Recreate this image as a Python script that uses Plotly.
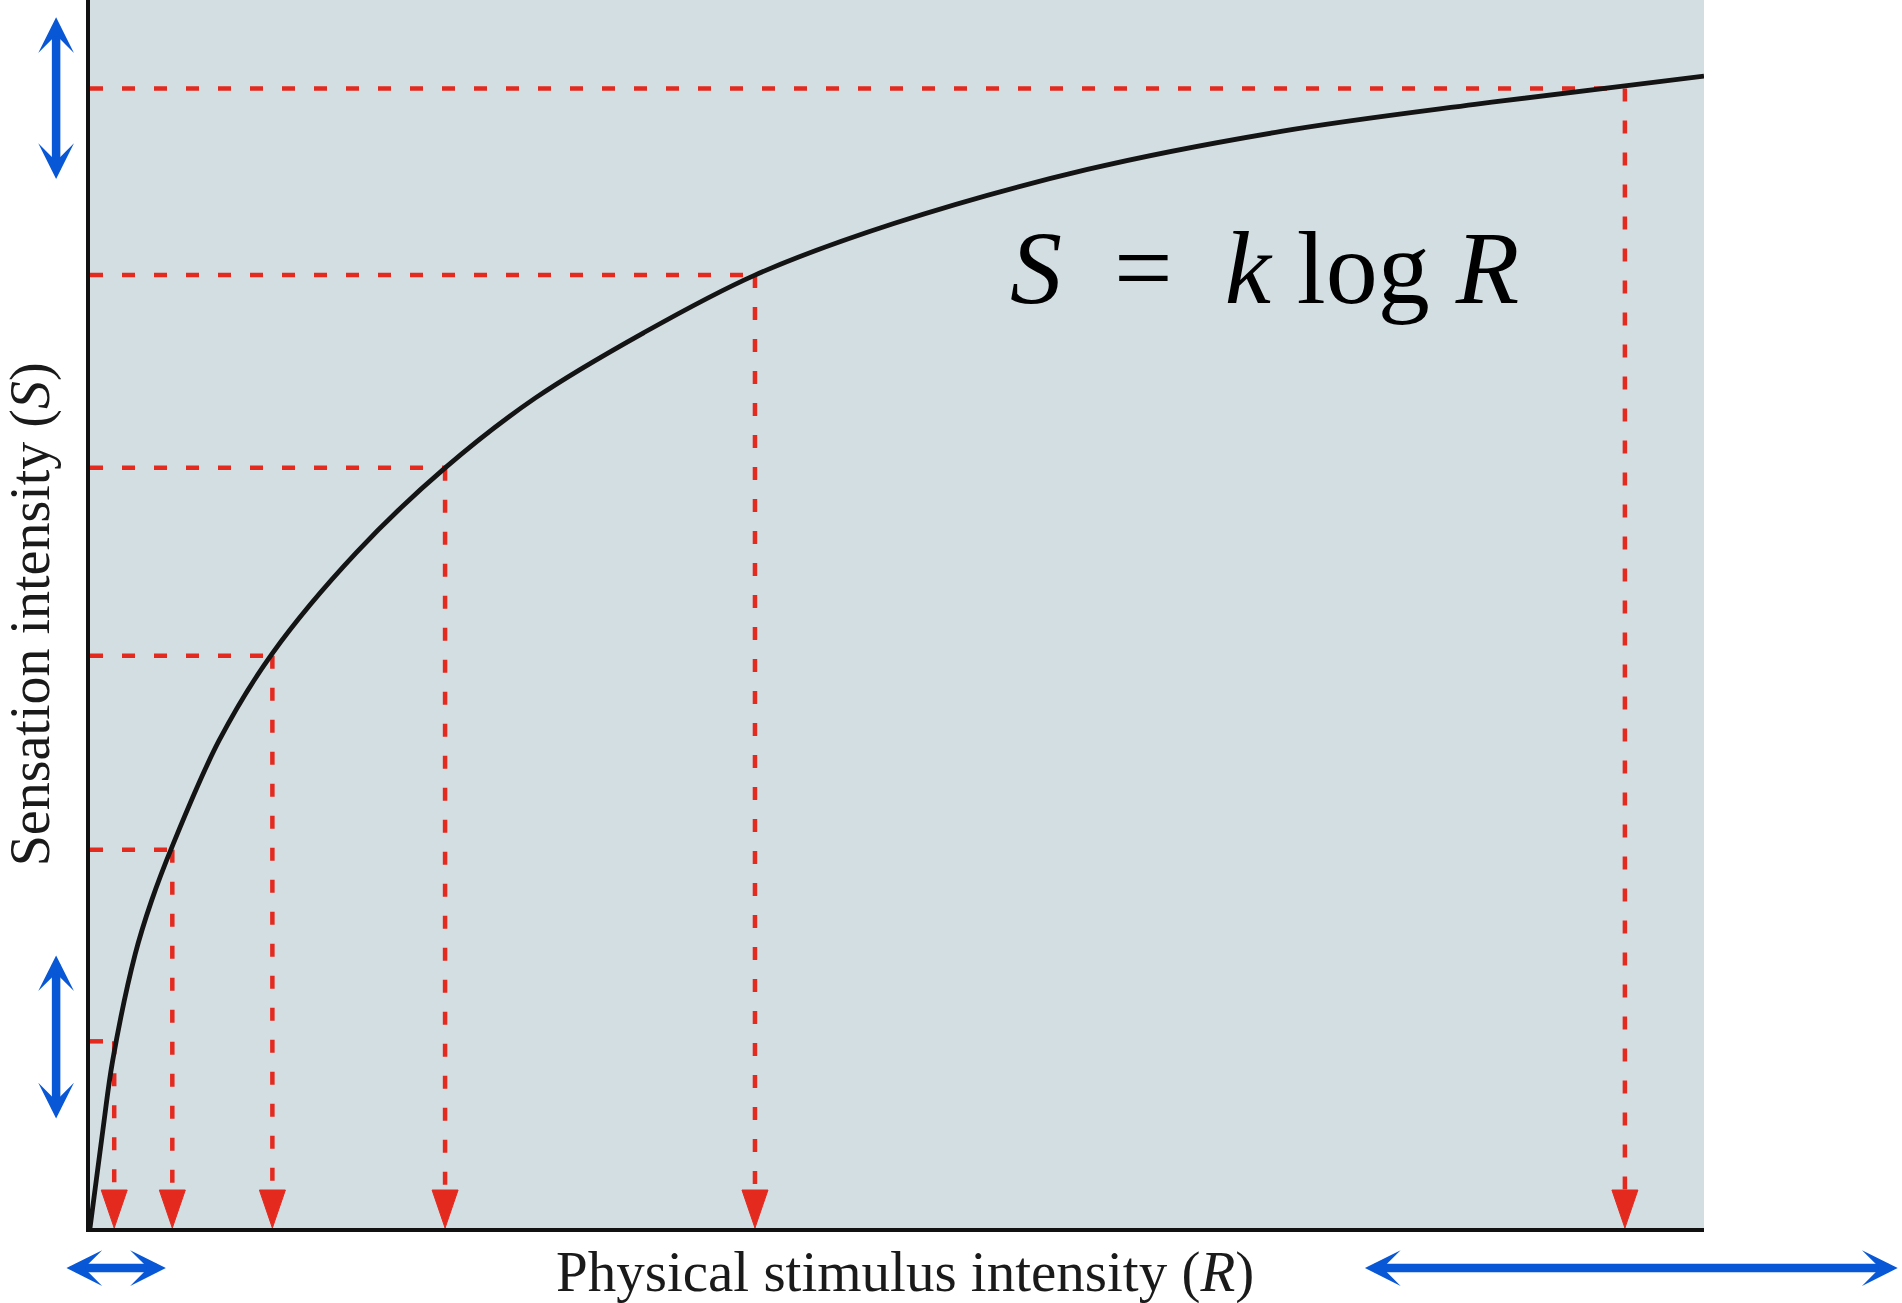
import plotly.graph_objects as go

# curve (R and S in 0-100 axis units)
curve_R = [0, 0.8, 1.4, 2.8, 3.8, 5.1, 8.0, 11.3, 16.5, 22.0, 27.6, 34.3, 41.2, 49.8, 61.8, 73.8, 85.8, 95.1, 100]
curve_S = [0, 8.0, 13.6, 22.3, 26.6, 31.1, 39.7, 46.8, 55.0, 61.9, 67.6, 72.9, 77.6, 81.8, 86.2, 89.3, 91.5, 93.0, 93.8]

# equal steps of sensation and the stimulus needed for each
R_marks = [1.5, 5.1, 11.3, 22.0, 41.2, 95.1]
S_marks = [15.2, 30.8, 46.6, 61.9, 77.6, 92.8]

# blue range arrows (axis units)
S_spans = [(85.3, 98.6), (8.8, 22.2)]
R_spans = [(-1.55, 4.7), (78.9, 112.0)]
span_R_pos = -2.1
span_S_pos = -3.26

RED = "#E42A1F"
BLUE = "#0757D6"
BG = "#D3DEE3"
FONT = "Liberation Serif"

W, H = 1902, 1303
ml, mr, mt, mb = 90, 198, 0, 75
xr = (0, 100)
yr = (0, 100)
px_x = (W - ml - mr) / (xr[1] - xr[0])
px_y = (H - mt - mb) / (yr[1] - yr[0])

head_w = 13 / px_x
head_h = 38 / px_y

fig = go.Figure()

# horizontal dashed lines
hx, hy = [], []
for r, s in zip(R_marks, S_marks):
    hx += [0, r, None]
    hy += [s, s, None]
fig.add_trace(go.Scatter(x=hx, y=hy, mode="lines",
                         line=dict(color=RED, width=4.5, dash="13px,19px"),
                         hoverinfo="skip"))

# vertical dashed lines
vx, vy = [], []
for r, s in zip(R_marks, S_marks):
    vx += [r, r, None]
    vy += [s, head_h, None]
fig.add_trace(go.Scatter(x=vx, y=vy, mode="lines",
                         line=dict(color=RED, width=4.5, dash="13px,19px"),
                         hoverinfo="skip"))

# red arrow heads on the R axis
tx, ty = [], []
for r in R_marks:
    tx += [r, r - head_w, r + head_w, r, None]
    ty += [0, head_h, head_h, 0, None]
fig.add_trace(go.Scatter(x=tx, y=ty, mode="lines", fill="toself",
                         fillcolor=RED, line=dict(color=RED, width=1),
                         hoverinfo="skip"))

# the log curve
fig.add_trace(go.Scatter(x=curve_R, y=curve_S, mode="lines",
                         line=dict(color="#141414", width=4.8, shape="spline", smoothing=1.0),
                         hoverinfo="skip"))

arrow_style = dict(showarrow=True, text="", xref="paper", yref="paper",
                   axref="pixel", ayref="pixel",
                   arrowside="end+start", arrowhead=3, startarrowhead=3,
                   arrowsize=0.7, startarrowsize=0.7, arrowwidth=8.5,
                   arrowcolor=BLUE, standoff=0, startstandoff=0)


def xp(v):
    return (v - xr[0]) / (xr[1] - xr[0])


def yp(v):
    return (v - yr[0]) / (yr[1] - yr[0])


annotations = []
for lo, hi in S_spans:
    annotations.append(dict(x=xp(span_R_pos), y=yp(hi), ax=0, ay=(hi - lo) * px_y, **arrow_style))
for lo, hi in R_spans:
    annotations.append(dict(x=xp(hi), y=yp(span_S_pos), ax=-(hi - lo) * px_x, ay=0, **arrow_style))

annotations += [
    dict(text="<i>S</i>&nbsp;&nbsp;=&nbsp;&nbsp;<i>k</i>&nbsp;log&nbsp;<i>R</i>",
         xref="paper", yref="paper", x=0.728, y=0.782, showarrow=False,
         xanchor="center", yanchor="middle",
         font=dict(family=FONT, size=104, color="black")),
    dict(text="Physical stimulus intensity (<i>R</i>)",
         xref="paper", yref="paper", x=0.505, y=-0.036, showarrow=False,
         xanchor="center", yanchor="middle",
         font=dict(family=FONT, size=57, color="#1a1a1a")),
    dict(text="Sensation intensity (<i>S</i>)",
         xref="paper", yref="paper", x=-0.037, y=0.5, showarrow=False,
         textangle=-90, xanchor="center", yanchor="middle",
         font=dict(family=FONT, size=56, color="#1a1a1a")),
]

fig.update_layout(
    width=W, height=H,
    margin=dict(l=ml, r=mr, t=mt, b=mb),
    paper_bgcolor="white",
    plot_bgcolor=BG,
    showlegend=False,
    annotations=annotations,
)
fig.update_xaxes(range=list(xr), showgrid=False, zeroline=False, showticklabels=False,
                 ticks="", showline=True, linecolor="#111111", linewidth=3.5)
fig.update_yaxes(range=list(yr), showgrid=False, zeroline=False, showticklabels=False,
                 ticks="", showline=True, linecolor="#111111", linewidth=3.5)

fig.write_html("out.html", config={"displayModeBar": False},
               post_script="document.body.style.margin='0';")
